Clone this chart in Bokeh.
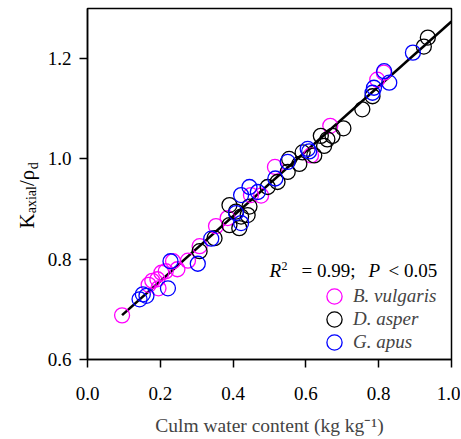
import math
from bokeh.plotting import figure
from bokeh.layouts import row
from bokeh.models import FixedTicker, PrintfTickFormatter, Label, Legend, LegendItem
from bokeh.embed import file_html
from bokeh.resources import INLINE

# ---- data ----
bv_x = [0.095, 0.168, 0.178, 0.192, 0.195, 0.203, 0.215, 0.235, 0.247, 0.276,
        0.308, 0.353, 0.385, 0.449, 0.477, 0.515, 0.614, 0.667, 0.796, 0.814]
bv_y = [0.688, 0.749, 0.757, 0.760, 0.742, 0.773, 0.776, 0.796, 0.780, 0.797,
        0.826, 0.866, 0.882, 0.928, 0.927, 0.984, 1.007, 1.066, 1.158, 1.172]

da_x = [0.308, 0.349, 0.390, 0.390, 0.408, 0.417, 0.422, 0.440, 0.445, 0.495,
        0.522, 0.550, 0.554, 0.582, 0.591, 0.623, 0.641, 0.650, 0.659, 0.673,
        0.703, 0.755, 0.783, 0.924, 0.935]
da_y = [0.816, 0.842, 0.908, 0.868, 0.895, 0.862, 0.885, 0.888, 0.905, 0.944,
        0.954, 0.974, 1.000, 0.990, 1.013, 1.007, 1.046, 1.026, 1.039, 1.046,
        1.061, 1.099, 1.125, 1.224, 1.242]

ga_x = [0.143, 0.152, 0.162, 0.221, 0.228, 0.303, 0.340, 0.408, 0.422, 0.422,
        0.445, 0.468, 0.516, 0.550, 0.605, 0.609, 0.783, 0.787, 0.815, 0.829, 0.894]
ga_y = [0.720, 0.730, 0.727, 0.742, 0.796, 0.791, 0.841, 0.892, 0.872, 0.928,
        0.944, 0.934, 0.961, 0.994, 1.020, 1.015, 1.132, 1.142, 1.175, 1.152, 1.212]

fit_slope = 0.647
fit_intercept = 0.627
fit_x = [0.095, 1.0]
fit_y = [fit_intercept + fit_slope * v for v in fit_x]

x_ticks = [0.0, 0.2, 0.4, 0.6, 0.8, 1.0]
y_ticks = [0.6, 0.8, 1.0, 1.2]

species = ["B. vulgaris", "D. asper", "G. apus"]
colors = ["#ff00ff", "black", "#0000ff"]

FONT = "Liberation Serif"
H = 438
LW = 44
FRAME_BOTTOM = 363

# ---- main plot ----
p = figure(width=460 - LW, height=H, x_range=(0, 1), y_range=(0.6, 1.3),
           output_backend="svg", toolbar_location=None,
           min_border_left=86 - LW, min_border_right=9, min_border_top=8,
           min_border_bottom=H - FRAME_BOTTOM)
p.grid.visible = False
p.background_fill_color = "white"
p.border_fill_color = "white"
p.outline_line_color = "black"
p.outline_line_width = 1.5

for ax in (p.xaxis[0], p.yaxis[0]):
    ax.axis_line_width = 1.5
    ax.major_tick_line_width = 1.5
    ax.major_tick_out = 8
    ax.major_tick_in = 0
    ax.minor_tick_line_color = None
    ax.major_label_text_font = FONT
    ax.major_label_text_font_size = "19px"
    ax.major_label_text_color = "black"
    ax.formatter = PrintfTickFormatter(format="%.1f")

p.xaxis.ticker = FixedTicker(ticks=x_ticks)
p.yaxis.ticker = FixedTicker(ticks=y_ticks)
p.xaxis.major_label_standoff = 19
p.yaxis.major_label_standoff = 8
p.xaxis.axis_label = "Culm water content (kg kg\u207b\u00b9)"
p.xaxis.axis_label_text_font = FONT
p.xaxis.axis_label_text_font_style = "normal"
p.xaxis.axis_label_text_font_size = "19.5px"
p.xaxis.axis_label_standoff = 12

p.line(fit_x, fit_y, line_color="black", line_width=2.6)

renderers = []
for xs, ys, c in zip([bv_x, da_x, ga_x], [bv_y, da_y, ga_y], colors):
    renderers.append(p.scatter(xs, ys, marker="circle", size=15, fill_color=None,
                               line_color=c, line_width=1.3))

# one legend per row so that the swatch circles can be large
legend_rows_y = [44, 21, -2]
for name, r, ly in zip(species, renderers, legend_rows_y):
    lg = Legend(items=[LegendItem(label=name, renderers=[r])],
                location=(228, ly), orientation="vertical",
                glyph_width=38, glyph_height=38, label_height=20,
                spacing=0, padding=0, margin=0, label_standoff=0,
                border_line_color=None, background_fill_alpha=0,
                label_text_font=FONT, label_text_font_style="italic",
                label_text_font_size="19px")
    p.add_layout(lg, "center")


def lab(fig, txt, x, y, size="19px", style="normal", **kw):
    fig.add_layout(Label(text=txt, x=x, y=y, x_units="screen", y_units="screen",
                         text_font=FONT, text_font_size=size, text_font_style=style,
                         text_color="black", text_baseline="alphabetic", **kw))


# R^2 annotation (screen units from frame bottom-left)
lab(p, "R", 182, 89, style="italic")
lab(p, "2", 194, 93.5, size="12px")
lab(p, "= 0.99;", 214, 89)
lab(p, "P", 281, 89, style="italic")
lab(p, "< 0.05", 301, 89)

# ---- y-axis title panel (frame aligned with the main plot frame) ----
yl = figure(width=LW, height=H, x_range=(0, LW), y_range=(0, H),
            output_backend="svg", toolbar_location=None,
            x_axis_location=None, y_axis_location=None,
            min_border_left=0, min_border_right=0, min_border_top=0, min_border_bottom=0)
yl.grid.visible = False
yl.outline_line_color = None
yl.background_fill_color = "white"
yl.border_fill_color = "white"

ang = math.pi / 2
lab(yl, "K", 26, FRAME_BOTTOM - 232, size="21px", angle=ang)
lab(yl, "axial", 31, FRAME_BOTTOM - 216.8, size="14px", angle=ang)
lab(yl, "/\u03c1", 26, FRAME_BOTTOM - 189.6, size="21px", angle=ang)
lab(yl, "d", 33, FRAME_BOTTOM - 172.8, size="14px", angle=ang)

layout = row(yl, p)
open("out.html", "w").write(file_html(layout, INLINE))
